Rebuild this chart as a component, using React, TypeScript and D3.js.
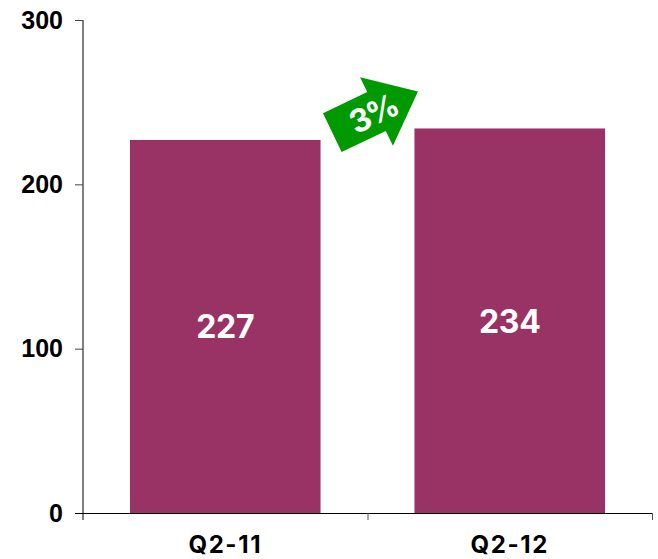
import React from "react";
import * as d3 from "d3";

const categories = ["Q2-11", "Q2-12"];
const values = [227, 234];
const yTicks = [0, 100, 200, 300];
const changeLabel = "3%";

const font = "'Liberation Sans', Arial, sans-serif";
const labelFont = "Inter, 'Open Sans', sans-serif";

export default function App() {
  const x = d3.scaleBand<string>().domain(categories).range([83, 652]).paddingInner(0.33).paddingOuter(0.165);
  const y = d3.scaleLinear().domain([0, 300]).range([513, 20]);
  const boundaries = d3.range(categories.length + 1).map((i) => 83 + (569 / categories.length) * i);
  return (
    <svg width={658} height={559} style={{ position: "fixed", left: 0, top: 0, background: "#fff" }}>
      {categories.map((c, i) => (
        <g key={c}>
          <rect x={x(c)} y={y(values[i])} width={x.bandwidth()} height={y(0) - y(values[i])} fill="#993366" />
          <text x={x(c)! + x.bandwidth() / 2} y={(y(values[i]) + y(0)) / 2 + 12} textAnchor="middle" fontFamily={labelFont} fontWeight={700} fontSize={32} letterSpacing={-0.3} fill="#fff">{values[i]}</text>
          <text x={x(c)! + x.bandwidth() / 2} y={553} textAnchor="middle" fontFamily={labelFont} fontWeight={700} fontSize={24} letterSpacing={1.6} fill="#000">{c}</text>
        </g>
      ))}
      <line x1={83} x2={83} y1={y(300)} y2={y(0) + 7} stroke="#555" strokeWidth={1.5} />
      <line x1={75} x2={652} y1={y(0) + 0.5} y2={y(0) + 0.5} stroke="#000" strokeWidth={1} />
      {yTicks.map((t) => (
        <g key={t}>
          <line x1={75} x2={83} y1={y(t) + 0.5} y2={y(t) + 0.5} stroke={t === 0 ? "#000" : "#444"} />
          <text x={63} y={y(t) + 8.5} textAnchor="end" fontFamily={font} fontWeight={700} fontSize={25} fill="#000">{t}</text>
        </g>
      ))}
      {boundaries.slice(1).map((b) => (
        <line key={b} x1={b + 0.5} x2={b + 0.5} y1={y(0)} y2={y(0) + 7} stroke="#555" />
      ))}
      <g transform="translate(376.5,111.5) rotate(-25.6)">
        <path d="M-49,-21.5H0V-38L46,0L0,38V21.5H-49Z" fill="#009900" />
        <text x={-4} y={12} textAnchor="middle" fontFamily={labelFont} fontWeight={700} fontSize={32} letterSpacing={-2} fill="#fff">{changeLabel}</text>
      </g>
    </svg>
  );
}
